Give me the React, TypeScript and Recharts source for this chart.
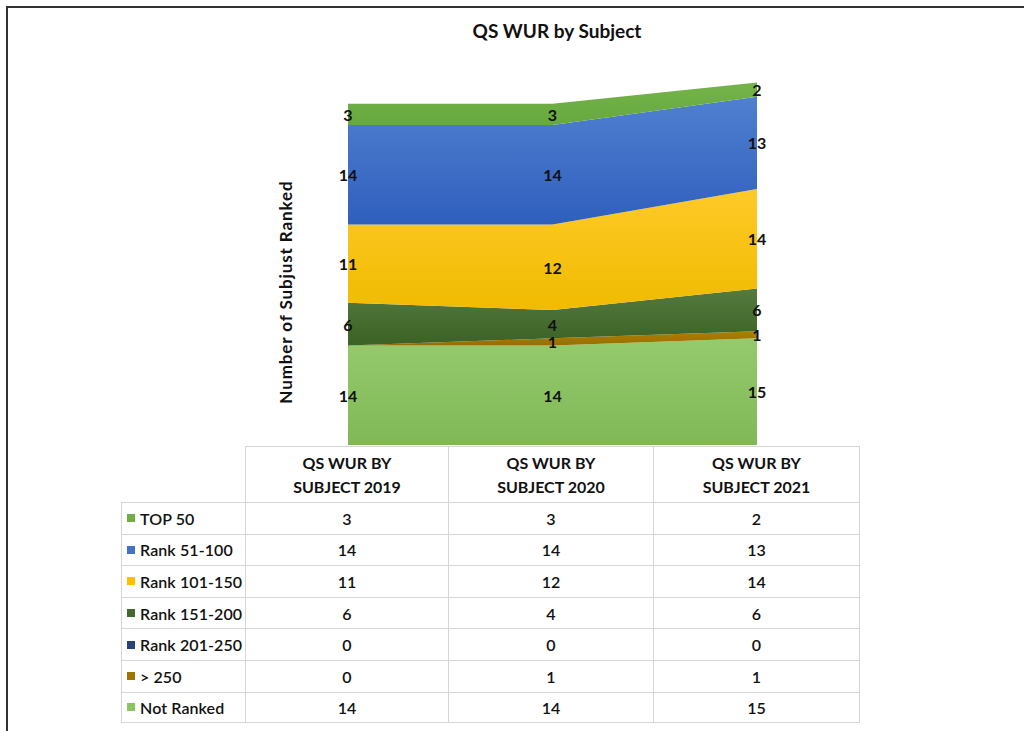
import React from "react";
import { AreaChart, Area, XAxis, YAxis, LabelList } from "recharts";

// ── Data ──────────────────────────────────────────────────────────────────────
const years = ["2019", "2020", "2021"];
const columnHeaders = ["QS WUR BY SUBJECT 2019", "QS WUR BY SUBJECT 2020", "QS WUR BY SUBJECT 2021"];

const top50 = [3, 3, 2];
const rank51to100 = [14, 14, 13];
const rank101to150 = [11, 12, 14];
const rank151to200 = [6, 4, 6];
const rank201to250 = [0, 0, 0];
const over250 = [0, 1, 1];
const notRanked = [14, 14, 15];

// bottom of the stack first
const series = [
  { key: "notRanked", name: "Not Ranked", values: notRanked, color: "#8cc462", top: "#95cb6c", bottom: "#80b757" },
  { key: "over250", name: "> 250", values: over250, color: "#a07400", top: "#ad8000", bottom: "#996e00" },
  { key: "rank201", name: "Rank 201-250", values: rank201to250, color: "#264478", top: "#2d4f88", bottom: "#223d6c" },
  { key: "rank151", name: "Rank 151-200", values: rank151to200, color: "#436a2b", top: "#557a3f", bottom: "#3c6125" },
  { key: "rank101", name: "Rank 101-150", values: rank101to150, color: "#ffc000", top: "#ffca28", bottom: "#f0bb00" },
  { key: "rank51", name: "Rank 51-100", values: rank51to100, color: "#4472c4", top: "#5080d0", bottom: "#2f5fbd" },
  { key: "top50", name: "TOP 50", values: top50, color: "#70ad47", top: "#74b44a", bottom: "#67a83f" },
];

// table rows are listed top of the stack first
const tableOrder = [...series].reverse();

const chartData = years.map((year, i) => {
  const row: Record<string, string | number> = { year };
  series.forEach((s) => {
    row[s.key] = s.values[i];
  });
  return row;
});

// ── Layout ────────────────────────────────────────────────────────────────────
const W = 1024;
const H = 731;
const Y_MAX = 55;
const MARGIN = { top: 54, right: 164, bottom: 286, left: 247 };
const PLOT_H = H - MARGIN.top - MARGIN.bottom;
const PX_PER_UNIT = PLOT_H / Y_MAX;
const FONT = "Lato, 'Noto Sans', sans-serif";

// label in the middle of each stacked band, hidden for zeros
function BandLabel(props: any) {
  const { x, y, value } = props;
  if (!value) return null;
  return (
    <text
      x={x}
      y={y + (value * PX_PER_UNIT) / 2}
      textAnchor="middle"
      dominantBaseline="central"
      fontSize={16}
      fontWeight={700}
      fontFamily={FONT}
      fill="#111"
    >
      {value}
    </text>
  );
}

const TABLE_LEFT = 121;
const TABLE_TOP = 446;
const FIRST_COL = 125;
const COL_W = [203, 205, 206];
const HEADER_H = 56;
const ROW_H = 31.6;
const BORDER = "1.5px solid #d6d6d6";

function DataTable() {
  return (
    <div style={{ position: "absolute", left: TABLE_LEFT, top: TABLE_TOP, fontFamily: FONT, color: "#111" }}>
      <div style={{ display: "flex", height: HEADER_H }}>
        <div style={{ width: FIRST_COL, borderRight: BORDER, boxSizing: "border-box" }} />
        {columnHeaders.map((h, i) => (
          <div
            key={h}
            style={{
              width: COL_W[i],
              boxSizing: "border-box",
              borderTop: BORDER,
              borderRight: BORDER,
              display: "flex",
              alignItems: "center",
              justifyContent: "center",
              textAlign: "center",
              fontSize: 16,
              fontWeight: 700,
              lineHeight: "24px",
              padding: "0 40px",
            }}
          >
            {h}
          </div>
        ))}
      </div>
      {tableOrder.map((s) => (
        <div key={s.key} style={{ display: "flex", height: ROW_H }}>
          <div
            style={{
              width: FIRST_COL,
              boxSizing: "border-box",
              borderTop: BORDER,
              borderLeft: BORDER,
              borderRight: BORDER,
              borderBottom: s.key === "notRanked" ? BORDER : undefined,
              display: "flex",
              alignItems: "center",
              paddingLeft: 5,
              fontSize: 16,
              fontWeight: 600,
              letterSpacing: 0.1,
              whiteSpace: "nowrap",
            }}
          >
            <span style={{ width: 8, height: 8, background: s.color, marginRight: 5, flexShrink: 0 }} />
            {s.name}
          </div>
          {s.values.map((v, i) => (
            <div
              key={i}
              style={{
                width: COL_W[i],
                boxSizing: "border-box",
                borderTop: BORDER,
                borderRight: BORDER,
                borderBottom: s.key === "notRanked" ? BORDER : undefined,
                display: "flex",
                alignItems: "center",
                justifyContent: "center",
                fontSize: 16,
                fontWeight: 600,
              }}
            >
              {v}
            </div>
          ))}
        </div>
      ))}
    </div>
  );
}

export default function App() {
  return (
    <div style={{ position: "absolute", left: 0, top: 0, width: W, height: H, background: "#fff", overflow: "hidden" }}>
      {/* frame */}
      <div
        style={{
          position: "absolute",
          left: 6,
          top: 6,
          width: W,
          height: H,
          borderTop: "2px solid #333",
          borderLeft: "2px solid #333",
        }}
      />
      <div
        style={{
          position: "absolute",
          left: 557,
          top: 30,
          transform: "translate(-50%, -50%)",
          fontFamily: FONT,
          fontWeight: 700,
          fontSize: 19,
          color: "#111",
          whiteSpace: "nowrap",
        }}
      >
        QS WUR by Subject
      </div>
      <div
        style={{
          position: "absolute",
          left: 285,
          top: 292,
          transform: "translate(-50%, -50%) rotate(-90deg)",
          fontFamily: FONT,
          fontWeight: 700,
          fontSize: 17,
          letterSpacing: 0.9,
          color: "#111",
          whiteSpace: "nowrap",
        }}
      >
        Number of Subjust Ranked
      </div>

      <div style={{ position: "absolute", left: 0, top: 0 }}>
        <AreaChart width={W} height={H} data={chartData} margin={MARGIN}>
          <defs>
            {series.map((s) => (
              <linearGradient key={s.key} id={`grad-${s.key}`} x1="0" y1="0" x2="0" y2="1">
                <stop offset="0%" stopColor={s.top} />
                <stop offset="100%" stopColor={s.bottom} />
              </linearGradient>
            ))}
          </defs>
          <XAxis dataKey="year" hide padding={{ left: 101, right: 103 }} />
          <YAxis hide domain={[0, Y_MAX]} />
          {series.map((s) => (
            <Area
              key={s.key}
              type="linear"
              dataKey={s.key}
              name={s.name}
              stackId="1"
              stroke="none"
              fill={`url(#grad-${s.key})`}
              fillOpacity={1}
              isAnimationActive={false}
            >
              <LabelList dataKey={s.key} content={<BandLabel />} />
            </Area>
          ))}
        </AreaChart>
      </div>

      <DataTable />
    </div>
  );
}
